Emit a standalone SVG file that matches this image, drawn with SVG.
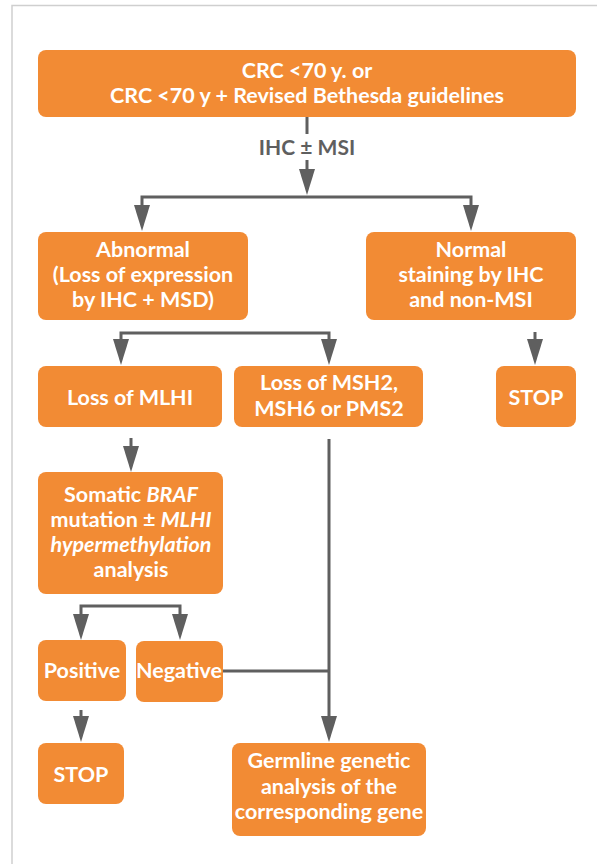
<svg xmlns="http://www.w3.org/2000/svg" width="597" height="864" viewBox="0 0 597 864">
<defs>
<style>
.box{fill:#F28B34;}
.t{font-family:Lato,"Liberation Sans",Arial,sans-serif;font-weight:700;font-size:21.5px;fill:#ffffff;text-anchor:middle;}
.i{font-style:italic;}
.lbl{font-family:Lato,"Liberation Sans",Arial,sans-serif;font-weight:700;font-size:21px;fill:#5f5f5f;text-anchor:middle;}
.c{fill:none;stroke:#5f5f5f;stroke-width:3;}
.frame{fill:none;stroke:#cfcfcf;stroke-width:1.5;}
</style>
<marker id="ah" viewBox="0 0 26 16" refX="12" refY="8" markerWidth="26" markerHeight="16" markerUnits="userSpaceOnUse" orient="auto-start-reverse">
<path d="M0,0 L26,8 L0,16 Z" fill="#5f5f5f"/>
</marker>
</defs>
<rect width="597" height="864" fill="#ffffff"/>
<path class="frame" d="M12,864 V5.5 H597"/>

<g id="connectors">
<path class="c" d="M307,117 V134"/>
<path class="c" d="M307,160 V181" marker-end="url(#ah)"/>
<path class="c" d="M142,217 V197 H471 V217" marker-start="url(#ah)" marker-end="url(#ah)"/>
<path class="c" d="M121,351 V333 H329 V351" marker-start="url(#ah)" marker-end="url(#ah)"/>
<path class="c" d="M535,332 V351" marker-end="url(#ah)"/>
<path class="c" d="M131,438 V458" marker-end="url(#ah)"/>
<path class="c" d="M81,626 V606 H180 V626" marker-start="url(#ah)" marker-end="url(#ah)"/>
<path class="c" d="M81,710 V728" marker-end="url(#ah)"/>
<path class="c" d="M329,439 V728" marker-end="url(#ah)"/>
<path class="c" d="M223,671 H329"/>
<text class="lbl" x="307" y="155">IHC ± MSI</text>
</g>

<g id="start">
<rect class="box" x="38" y="50" width="538" height="67" rx="8"/>
<text class="t" x="307" y="78">CRC &lt;70 y. or</text>
<text class="t" x="307" y="103">CRC &lt;70 y + Revised Bethesda guidelines</text>
</g>

<g id="abnormal">
<rect class="box" x="38" y="232" width="210" height="88" rx="8"/>
<text class="t" x="143" y="257">Abnormal</text>
<text class="t" x="143" y="282">(Loss of expression</text>
<text class="t" x="143" y="307">by IHC + MSD)</text>
</g>

<g id="normal">
<rect class="box" x="366" y="232" width="210" height="88" rx="8"/>
<text class="t" x="471" y="257">Normal</text>
<text class="t" x="471" y="282">staining by IHC</text>
<text class="t" x="471" y="307">and non-MSI</text>
</g>

<g id="loss-mlh1">
<rect class="box" x="38" y="366" width="184" height="61" rx="8"/>
<text class="t" x="130" y="405">Loss of MLHI</text>
</g>

<g id="loss-msh2">
<rect class="box" x="234" y="366" width="189" height="61" rx="8"/>
<text class="t" x="329" y="390">Loss of MSH2,</text>
<text class="t" x="329" y="416">MSH6 or PMS2</text>
</g>

<g id="stop1">
<rect class="box" x="496" y="366" width="80" height="61" rx="8"/>
<text class="t" x="536" y="405">STOP</text>
</g>

<g id="somatic">
<rect class="box" x="38" y="472" width="185" height="122" rx="8"/>
<text class="t" x="131" y="502">Somatic <tspan class="i">BRAF</tspan></text>
<text class="t" x="131" y="527">mutation ± <tspan class="i">MLHI</tspan></text>
<text class="t i" x="131" y="552">hypermethylation</text>
<text class="t" x="131" y="577">analysis</text>
</g>

<g id="positive">
<rect class="box" x="38" y="640" width="88" height="61" rx="8"/>
<text class="t" x="82" y="678">Positive</text>
</g>

<g id="negative">
<rect class="box" x="136" y="641" width="87" height="61" rx="8"/>
<text class="t" x="179" y="678">Negative</text>
</g>

<g id="stop2">
<rect class="box" x="38" y="743" width="86" height="61" rx="8"/>
<text class="t" x="81" y="782">STOP</text>
</g>

<g id="germline">
<rect class="box" x="232" y="743" width="194" height="93" rx="8"/>
<text class="t" x="329" y="768">Germline genetic</text>
<text class="t" x="329" y="794">analysis of the</text>
<text class="t" x="329" y="819">corresponding gene</text>
</g>
</svg>
